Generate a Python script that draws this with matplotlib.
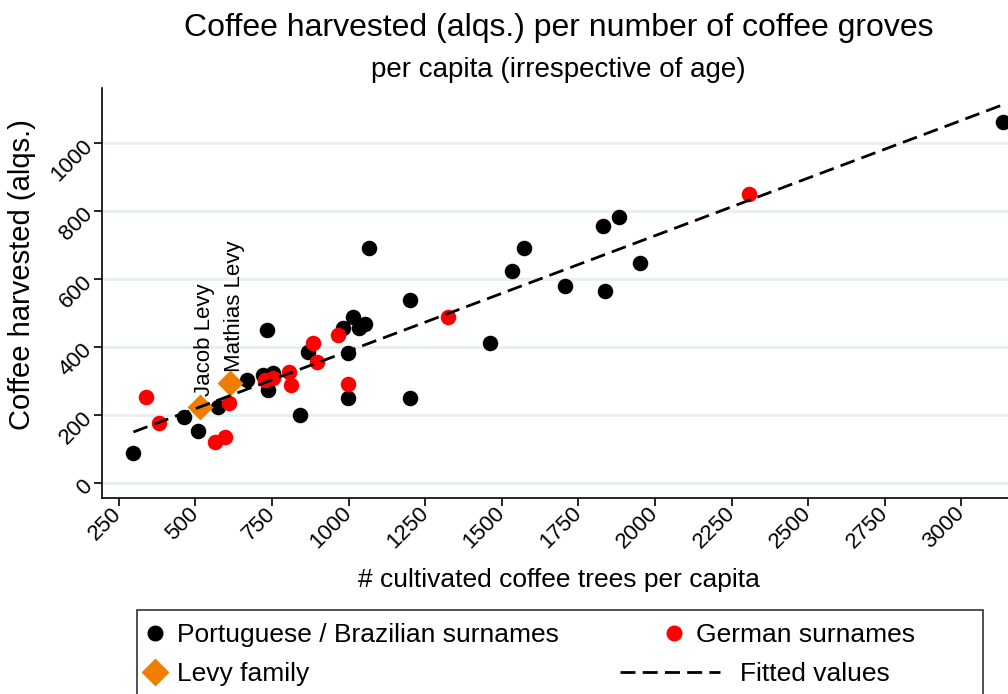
import matplotlib
matplotlib.use("Agg")
import matplotlib.pyplot as plt
from matplotlib.lines import Line2D
from matplotlib.patches import Rectangle

plt.rcParams.update({
    "font.family": ["Liberation Sans", "DejaVu Sans"],
    "figure.dpi": 100, "savefig.dpi": 100,
})

# Portuguese / Brazilian surnames
port_x = [298, 463, 510, 575, 670, 720, 752, 738, 733, 842, 869, 983, 1014, 1035,
          1054, 999, 999, 1068, 1201, 1201, 1460, 1533, 1573, 1707, 1830, 1881,
          1837, 1951, 3136]
port_y = [90, 196, 155, 225, 304, 318, 325, 274, 451, 201, 387, 456, 488, 456,
          469, 382, 250, 693, 539, 250, 414, 625, 693, 580, 755, 784,
          566, 649, 1062]

# German surnames
ger_x = [339, 383, 564, 597, 611, 727, 752, 807, 811, 883, 896, 964, 999, 1326, 2307]
ger_y = [253, 178, 122, 137, 235, 304, 309, 328, 288, 412, 358, 436, 291, 488, 851]

# Levy family
levy_x = [515, 613]
levy_y = [225, 294]
levy_names = ["Jacob Levy", "Mathias Levy"]

# fitted line end points
fit_x = [298, 3136]
fit_y = [151, 1113]

x_ticks = list(range(250, 3001, 250))
y_ticks = list(range(0, 1001, 200))

ORANGE = "#EE7D00"
GRID = "#E6EFF1"
DASH = (5.4, 2.6)

W, H = 1008, 694
fig = plt.figure(figsize=(W / 100, H / 100))
ax = fig.add_axes([101.7 / W, 1 - 498 / H, (W - 101.7) / W, (498 - 88) / H])

ax.set_xlim(194.5, 3152)
ax.set_ylim(-43, 1162)

ax.set_xticks(x_ticks)
ax.set_yticks(y_ticks)
ax.grid(axis="y", color=GRID, lw=2)
ax.set_axisbelow(True)
for s in ["top", "right"]:
    ax.spines[s].set_visible(False)
for s in ["left", "bottom"]:
    ax.spines[s].set_linewidth(1.2)
ax.tick_params(direction="out", length=6, width=1.2, labelsize=16, pad=3)
for lab in ax.get_xticklabels() + ax.get_yticklabels():
    lab.set_rotation(45)
    lab.set_ha("right")
    lab.set_va("center")
    lab.set_rotation_mode("anchor")

ax.scatter(port_x, port_y, s=125, color="black", linewidths=0, zorder=2)
ax.scatter(ger_x, ger_y, s=125, color="red", linewidths=0, zorder=3)
ax.scatter(levy_x, levy_y, s=175, marker="D", color=ORANGE, linewidths=0, zorder=4)
ax.plot(fit_x, fit_y, color="black", lw=2, dashes=DASH, zorder=5)

for x, y, name in zip(levy_x, levy_y, levy_names):
    ax.annotate(name, (x, y), xytext=(3, 8), textcoords="offset points",
                rotation=90, ha="center", va="bottom", fontsize=16)

fig.text(0.554, 1 - 28 / H, "Coffee harvested (alqs.) per number of coffee groves",
         ha="center", va="center", fontsize=23)
fig.text(0.554, 1 - 70 / H, "per capita (irrespective of age)",
         ha="center", va="center", fontsize=20)
fig.text(22 / W, 1 - 275 / H, "Coffee harvested (alqs.)", rotation=90,
         ha="center", va="center", fontsize=21)
fig.text(559 / W, 1 - 580 / H, "# cultivated coffee trees per capita",
         ha="center", va="center", fontsize=19)

# legend frame
fig.add_artist(Rectangle((137 / W, -0.05), (983 - 137) / W, (0.05 + 1 - 610 / H),
                         transform=fig.transFigure, fill=False, edgecolor="#333333", lw=1.2))

h_port = Line2D([], [], ls="", marker="o", color="black", markersize=10.5)
h_levy = Line2D([], [], ls="", marker="D", color=ORANGE, markersize=13.5)
h_ger = Line2D([], [], ls="", marker="o", color="red", markersize=10.5)
h_fit = Line2D([], [], color="black", lw=2, dashes=DASH)

common = dict(frameon=False, fontsize=19, labelspacing=0.57, borderpad=0,
              borderaxespad=0)
fig.legend([h_port, h_levy], ["Portuguese / Brazilian surnames", "Levy family"],
           loc="upper left", bbox_to_anchor=(143 / W, 1 - 623 / H),
           handlelength=0.9, handletextpad=0.4, **common)
fig.legend([h_ger], ["German surnames"],
           loc="upper left", bbox_to_anchor=(662 / W, 1 - 623 / H),
           handlelength=0.9, handletextpad=0.4, **common)
fig.legend([h_fit], ["Fitted values"],
           loc="upper left", bbox_to_anchor=(620 / W, 1 - 662 / H),
           handlelength=3.8, handletextpad=0.76, **common)

fig.savefig("out.png")
